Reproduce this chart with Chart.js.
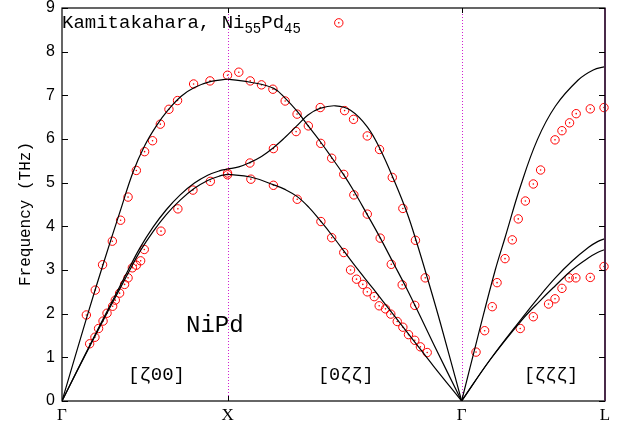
<!DOCTYPE html>
<html>
<head>
<meta charset="utf-8">
<script src="https://cdn.jsdelivr.net/npm/chart.js@4.4.1/dist/chart.umd.min.js"></script>
<style>
  html, body { margin: 0; padding: 0; background: #fff; }
  #wrap { width: 630px; height: 425px; }
</style>
</head>
<body>
<div id="wrap"><canvas id="phonon" width="630" height="425"></canvas></div>
<script>
// path coordinate: Γ=0, X=1, Γ=1+√2, L=1+√2+√3/2
const symPoints = [0, 1, 2.414, 3.28];
const symLabels = ['Γ', 'X', 'Γ', 'L'];
const yMin = 0, yMax = 9;

// calculated branches [q, THz]
const gxLA = [[0,0],[0.15,1.92],[0.25,3.15],[0.35,4.33],[0.43,5.25],[0.5,5.85],[0.57,6.3],[0.64,6.66],[0.72,6.98],[0.8,7.18],[0.9,7.32],[1,7.37]];
const gxTA2 = [[0,0],[0.171,1.3],[0.292,2.2],[0.4,3.0],[0.47,3.5],[0.55,3.98],[0.63,4.38],[0.714,4.72],[0.8,4.99],[0.88,5.17],[0.95,5.27],[1,5.31]];
const gxTA1 = [[0,0],[0.171,1.28],[0.292,2.16],[0.4,2.93],[0.47,3.42],[0.55,3.88],[0.63,4.27],[0.714,4.6],[0.8,4.87],[0.88,5.05],[0.95,5.15],[1,5.19]];

const xgA = [[1,7.37],[1.139,7.3],[1.279,7.16],[1.349,6.93],[1.421,6.63],[1.493,6.27],[1.564,5.92],[1.63,5.57],[1.7,5.19],[1.761,4.82],[1.842,4.28],[1.923,3.73],[2.003,3.15],[2.084,2.56],[2.164,1.94],[2.245,1.3],[2.414,0]];
const xgB = [[1,5.31],[1.068,5.36],[1.134,5.46],[1.205,5.6],[1.277,5.8],[1.348,6.04],[1.418,6.3],[1.486,6.55],[1.558,6.7],[1.652,6.76],[1.743,6.66],[1.844,6.28],[1.924,5.75],[2.005,5.06],[2.085,4.3],[2.145,3.6],[2.206,2.83],[2.286,1.78],[2.414,0]];
const xgC = [[1,5.19],[1.139,5.13],[1.279,4.95],[1.35,4.84],[1.421,4.68],[1.49,4.44],[1.558,4.14],[1.64,3.75],[1.761,3.14],[1.882,2.56],[2.003,1.97],[2.123,1.39],[2.244,0.8],[2.414,0]];

const glLA = [[2.414,0],[2.515,1.52],[2.617,3.0],[2.677,3.75],[2.768,4.9],[2.871,5.98],[2.98,6.75],[3.118,7.35],[3.209,7.58],[3.28,7.66]];
const glTA2 = [[2.414,0],[2.587,0.95],[2.779,1.9],[2.889,2.42],[2.98,2.82],[3.08,3.2],[3.181,3.52],[3.235,3.65],[3.28,3.72]];
const glTA1 = [[2.414,0],[2.587,0.95],[2.779,1.86],[2.889,2.3],[2.98,2.64],[3.08,3.0],[3.181,3.28],[3.235,3.4],[3.28,3.47]];

// measured points (Kamitakahara, Ni55Pd45)
const expGX = [[0.147,1.97],[0.201,2.54],[0.245,3.12],[0.304,3.66],[0.354,4.14],[0.399,4.67],[0.449,5.28],[0.499,5.71],[0.547,5.96],[0.594,6.34],[0.646,6.68],[0.698,6.88],[0.795,7.26],[0.894,7.33],[1.0,7.46],
  [0.167,1.31],[0.199,1.46],[0.221,1.66],[0.248,1.83],[0.272,2.01],[0.306,2.17],[0.322,2.31],[0.348,2.47],[0.378,2.67],[0.399,2.82],[0.425,3.05],[0.449,3.11],[0.475,3.21],[0.497,3.47],[0.598,3.89],[0.7,4.4],[0.791,4.83],[0.896,5.03],[1.0,5.22],[1.0,5.18]];
const expXG = [[1.068,7.53],[1.137,7.33],[1.205,7.24],[1.274,7.14],[1.348,6.87],[1.42,6.57],[1.414,6.17],[1.488,6.3],[1.56,6.72],[1.563,5.9],[1.629,5.56],[1.702,5.19],[1.707,6.65],[1.761,6.45],[1.844,6.07],[1.918,5.76],[1.995,5.12],
  [1.135,5.45],[1.277,5.78],[1.141,5.08],[1.277,4.94],[1.421,4.62],[1.564,4.11],[1.629,3.74],[1.702,3.4],[1.743,3.0],[1.779,2.79],[1.817,2.67],[1.844,2.5],[1.886,2.39],[1.916,2.18],[1.954,2.11],[1.986,1.99],[2.025,1.82],[2.059,1.69],[2.093,1.52],[2.131,1.39],[2.165,1.24],[2.206,1.11],
  [1.763,4.72],[1.844,4.28],[1.922,3.73],[1.989,3.13],[2.055,2.66],[2.131,2.19],
  [2.059,4.41],[2.135,3.68],[2.194,2.82],
  [1.672,8.66]];
const expGL = [[2.501,1.12],[2.553,1.61],[2.599,2.16],[2.628,2.71],[2.676,3.26],[2.72,3.69],[2.756,4.17],[2.799,4.58],[2.847,4.97],[2.891,5.29],[2.978,5.98],[3.02,6.19],[3.066,6.37],[3.106,6.58],[3.191,6.69],[3.274,6.72],
  [2.768,1.66],[2.847,1.93],[2.939,2.22],[2.978,2.34],[3.02,2.58],[3.064,2.82],[3.104,2.82],[3.191,2.83],[3.274,3.08]];

const curves = [gxLA, gxTA2, gxTA1, xgA, xgB, xgC, glLA, glTA2, glTA1];
const measured = [...expGX, ...expXG, ...expGL];

const toXY = arr => arr.map(p => ({ x: p[0], y: p[1] }));

const datasets = curves.map(c => ({
  data: toXY(c),
  showLine: true,
  borderColor: '#000',
  borderWidth: 1.2,
  pointRadius: 0,
  tension: 0.4,
  fill: false
}));

datasets.push({
  data: toXY(measured),
  showLine: false,
  pointStyle: 'circle',
  pointRadius: 4.2,
  borderColor: '#ff0000',
  backgroundColor: 'rgba(0,0,0,0)',
  pointBorderWidth: 1,
  clip: false
});
datasets.push({
  data: toXY(measured),
  showLine: false,
  pointRadius: 0.8,
  pointBorderWidth: 0,
  backgroundColor: '#ff0000',
  clip: false
});

function drawSub(ctx, parts, x, y) {
  parts.forEach(([txt, size, dy]) => {
    ctx.font = `${size}px "Liberation Mono"`;
    ctx.fillText(txt, x, y + dy);
    x += ctx.measureText(txt).width;
  });
}

const decor = {
  id: 'decor',
  beforeDatasetsDraw(chart) {
    const { ctx, chartArea: a, scales: { x } } = chart;
    ctx.save();
    ctx.strokeStyle = '#d020d0';
    ctx.lineWidth = 1;
    ctx.setLineDash([1, 2]);
    [symPoints[1], symPoints[2]].forEach(v => {
      const px = Math.round(x.getPixelForValue(v)) + 0.5;
      ctx.beginPath();
      ctx.moveTo(px, a.top);
      ctx.lineTo(px, a.bottom);
      ctx.stroke();
    });
    ctx.restore();
  },
  afterDatasetsDraw(chart) {
    const { ctx, chartArea: a, scales: { x, y } } = chart;
    ctx.save();
    // frame
    ctx.strokeStyle = '#000';
    ctx.lineWidth = 1.2;
    ctx.strokeRect(a.left, a.top, a.right - a.left, a.bottom - a.top);
    ctx.strokeStyle = '#4a2a4a';
    ctx.lineWidth = 2;
    ctx.beginPath();
    ctx.moveTo(a.right, a.top);
    ctx.lineTo(a.right, a.bottom);
    ctx.stroke();

    // inward ticks
    ctx.strokeStyle = '#000';
    ctx.lineWidth = 1;
    for (let v = yMin; v <= yMax; v++) {
      const py = Math.round(y.getPixelForValue(v)) + 0.5;
      ctx.beginPath();
      ctx.moveTo(a.left, py); ctx.lineTo(a.left + 6, py);
      ctx.moveTo(a.right, py); ctx.lineTo(a.right - 6, py);
      ctx.stroke();
    }
    [symPoints[1], symPoints[2]].forEach(v => {
      const px = Math.round(x.getPixelForValue(v)) + 0.5;
      ctx.beginPath();
      ctx.moveTo(px, a.bottom); ctx.lineTo(px, a.bottom - 5);
      ctx.moveTo(px, a.top); ctx.lineTo(px, a.top + 5);
      ctx.stroke();
    });

    // symmetry point labels
    ctx.fillStyle = '#000';
    ctx.textAlign = 'center';
    ctx.textBaseline = 'alphabetic';
    ctx.font = '17px "Liberation Serif"';
    symPoints.forEach((v, i) => {
      ctx.fillText(symLabels[i], x.getPixelForValue(v), a.bottom + 19);
    });

    // texts
    ctx.textAlign = 'left';
    drawSub(ctx, [['Kamitakahara, Ni', 19, 0], ['55', 14, 5], ['Pd', 19, 0], ['45', 14, 5]], a.left, 28);

    ctx.font = '24px "Liberation Mono"';
    ctx.fillText('NiPd', 186, 332);
    ctx.font = '19px "Liberation Mono"';
    ctx.fillText('[ζ00]', 128, 380);
    ctx.font = '18.5px "Liberation Mono"';
    ctx.fillText('[0ζζ]', 318, 380);
    ctx.font = '18px "Liberation Mono"';
    ctx.fillText('[ζζζ]', 524, 380);

    ctx.translate(26, 214);
    ctx.rotate(-Math.PI / 2);
    ctx.textAlign = 'center';
    ctx.textBaseline = 'middle';
    ctx.font = '16px "Liberation Mono"';
    ctx.fillText('Frequency (THz)', 0, 0);
    ctx.restore();
  }
};

new Chart(document.getElementById('phonon'), {
  type: 'scatter',
  data: { datasets },
  plugins: [decor],
  options: {
    responsive: false,
    animation: false,
    events: [],
    layout: { padding: { top: 8, right: 25, left: 0, bottom: 0 } },
    plugins: { legend: { display: false }, tooltip: { enabled: false } },
    scales: {
      x: {
        type: 'linear',
        min: symPoints[0],
        max: symPoints[3],
        afterBuildTicks: s => { s.ticks = symPoints.map(v => ({ value: v })); },
        afterFit: s => { s.height = 24; s.paddingLeft = 0; s.paddingRight = 0; },
        ticks: { display: false },
        grid: { display: false, drawTicks: false },
        border: { display: false }
      },
      y: {
        min: yMin,
        max: yMax,
        afterFit: s => { s.width = 62; s.paddingTop = 0; s.paddingBottom = 0; },
        ticks: {
          stepSize: 1,
          padding: 7,
          color: '#000',
          font: { family: 'Liberation Sans', size: 16 }
        },
        grid: { display: false, drawTicks: false },
        border: { display: false }
      }
    }
  }
});
</script>
</body>
</html>
